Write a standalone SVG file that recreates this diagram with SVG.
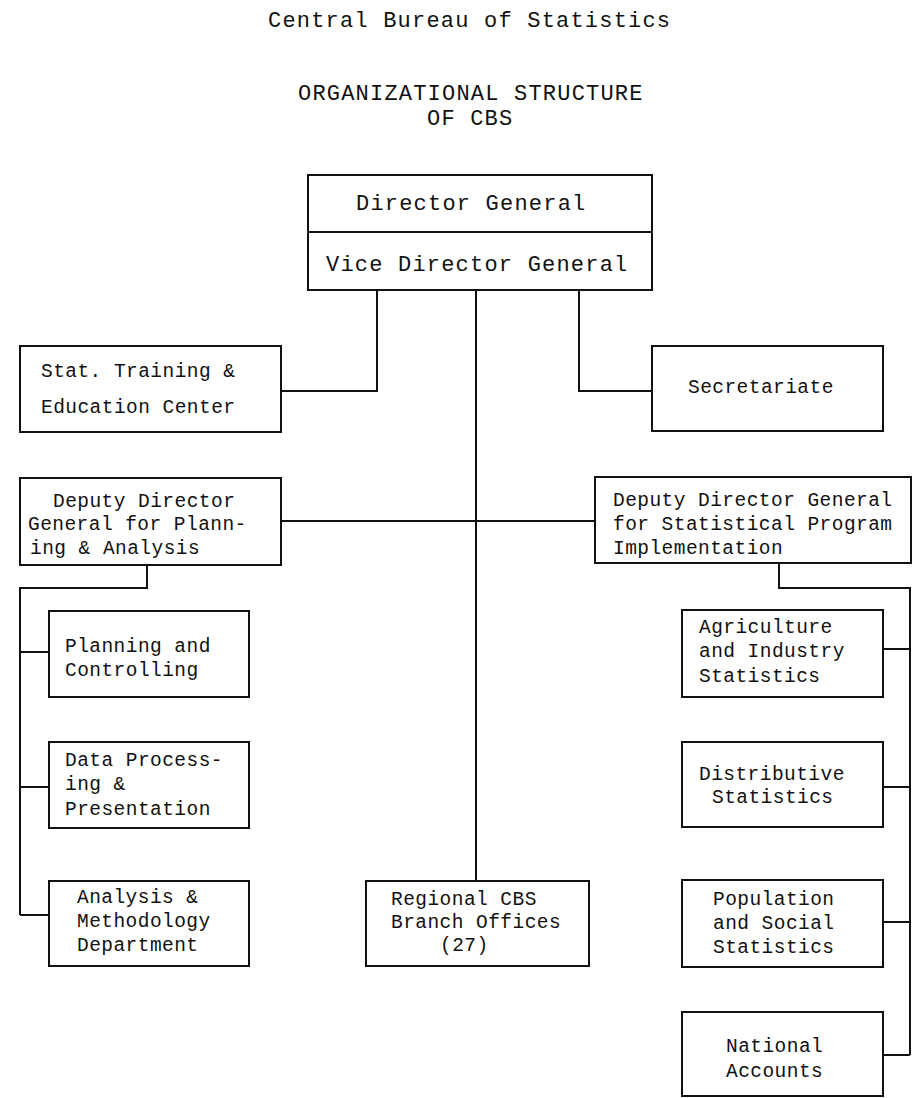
<svg xmlns="http://www.w3.org/2000/svg" width="913" height="1098" viewBox="0 0 913 1098">
<style>
  .bx { fill: #fff; stroke: #111; stroke-width: 2; }
  .ln { fill: none; stroke: #111; stroke-width: 2; }
  .t { font-family: "Liberation Mono", "DejaVu Sans Mono", monospace; font-size: 19.5px; letter-spacing: 0.45px; fill: #111; }
  .tl { font-family: "Liberation Mono", "DejaVu Sans Mono", monospace; font-size: 22px; letter-spacing: 1.2px; fill: #111; }
</style>
<rect width="913" height="1098" fill="#fff"/>
<g id="titles">
  <text class="tl" x="268" y="27">Central Bureau of Statistics</text>
  <text class="tl" x="298" y="100">ORGANIZATIONAL STRUCTURE</text>
  <text class="tl" x="427" y="125">OF CBS</text>
</g>
<g id="connectors">
  <path class="ln" d="M377 290 V391 H281"/>
  <path class="ln" d="M476 290 V881"/>
  <path class="ln" d="M579 290 V391 H652"/>
  <path class="ln" d="M281 521 H595"/>
  <path class="ln" d="M147 565 V588 H20 V915"/>
  <path class="ln" d="M20 652 H49"/>
  <path class="ln" d="M20 787 H49"/>
  <path class="ln" d="M20 915 H49"/>
  <path class="ln" d="M779 563 V588 H910 V1055"/>
  <path class="ln" d="M883 649 H910"/>
  <path class="ln" d="M883 787 H910"/>
  <path class="ln" d="M883 922 H910"/>
  <path class="ln" d="M883 1055 H910"/>
</g>
<g id="director-general">
  <rect class="bx" x="308" y="175" width="344" height="57"/>
  <text class="tl" x="356" y="210">Director General</text>
</g>
<g id="vice-director-general">
  <rect class="bx" x="308" y="232" width="344" height="58"/>
  <text class="tl" x="326" y="271">Vice Director General</text>
</g>
<g id="stat-training">
  <rect class="bx" x="20" y="346" width="261" height="86"/>
  <text class="t" x="41" y="377">Stat. Training &amp;</text>
  <text class="t" x="41" y="413">Education Center</text>
</g>
<g id="secretariate">
  <rect class="bx" x="652" y="346" width="231" height="85"/>
  <text class="t" x="688" y="393">Secretariate</text>
</g>
<g id="ddg-planning">
  <rect class="bx" x="20" y="478" width="261" height="87"/>
  <text class="t" x="53" y="507">Deputy Director</text>
  <text class="t" x="28" y="530">General for Plann-</text>
  <text class="t" x="30" y="554">ing &amp; Analysis</text>
</g>
<g id="ddg-program">
  <rect class="bx" x="595" y="477" width="316" height="86"/>
  <text class="t" x="613" y="506">Deputy Director General</text>
  <text class="t" x="613" y="530">for Statistical Program</text>
  <text class="t" x="613" y="554">Implementation</text>
</g>
<g id="planning">
  <rect class="bx" x="49" y="611" width="200" height="86"/>
  <text class="t" x="65" y="652">Planning and</text>
  <text class="t" x="65" y="676">Controlling</text>
</g>
<g id="data-processing">
  <rect class="bx" x="49" y="742" width="200" height="86"/>
  <text class="t" x="65" y="766">Data Process-</text>
  <text class="t" x="65" y="790">ing &amp;</text>
  <text class="t" x="65" y="815">Presentation</text>
</g>
<g id="analysis">
  <rect class="bx" x="49" y="881" width="200" height="85"/>
  <text class="t" x="77" y="903">Analysis &amp;</text>
  <text class="t" x="77" y="927">Methodology</text>
  <text class="t" x="77" y="951">Department</text>
</g>
<g id="regional">
  <rect class="bx" x="366" y="881" width="223" height="85"/>
  <text class="t" x="391" y="905">Regional CBS</text>
  <text class="t" x="391" y="928">Branch Offices</text>
  <text class="t" x="440" y="951">(27)</text>
</g>
<g id="agriculture">
  <rect class="bx" x="682" y="610" width="201" height="87"/>
  <text class="t" x="699" y="633">Agriculture</text>
  <text class="t" x="699" y="657">and Industry</text>
  <text class="t" x="699" y="682">Statistics</text>
</g>
<g id="distributive">
  <rect class="bx" x="682" y="742" width="201" height="85"/>
  <text class="t" x="699" y="780">Distributive</text>
  <text class="t" x="712" y="803">Statistics</text>
</g>
<g id="population">
  <rect class="bx" x="682" y="880" width="201" height="87"/>
  <text class="t" x="713" y="905">Population</text>
  <text class="t" x="713" y="929">and Social</text>
  <text class="t" x="713" y="953">Statistics</text>
</g>
<g id="national-accounts">
  <rect class="bx" x="682" y="1012" width="201" height="84"/>
  <text class="t" x="726" y="1052">National</text>
  <text class="t" x="726" y="1077">Accounts</text>
</g>
</svg>
